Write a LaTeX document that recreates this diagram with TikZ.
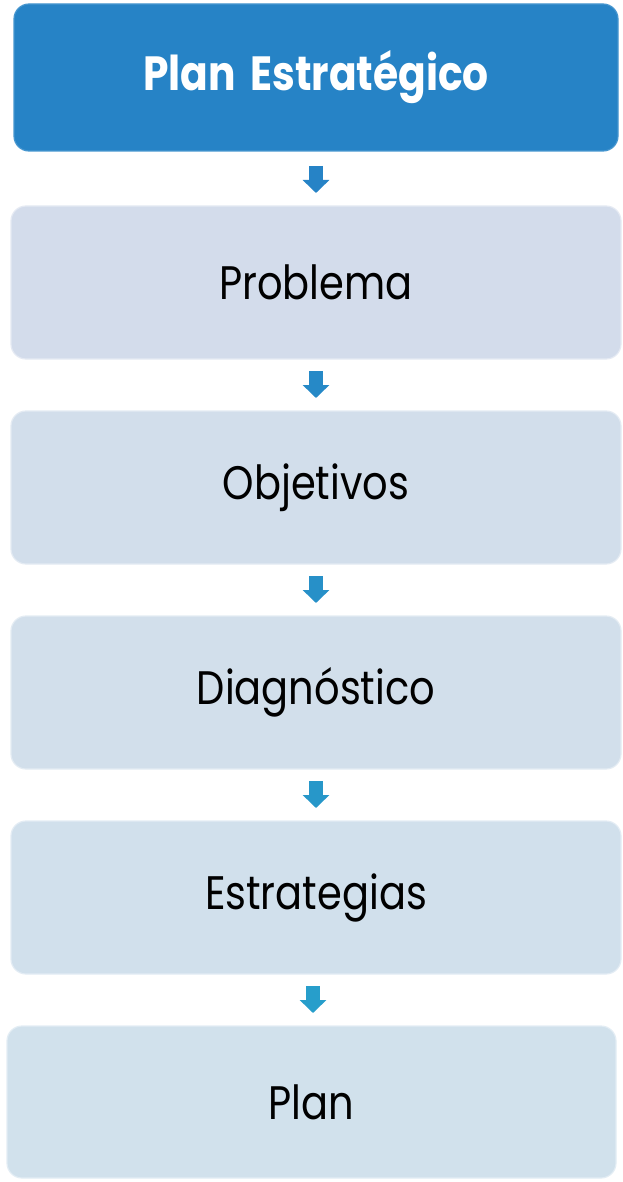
\documentclass[tikz,border=0pt]{standalone}
\usepackage{fontspec}
\setmainfont{Poppins}[FakeStretch=0.85]
\usetikzlibrary{arrows.meta,calc}
\definecolor{topblue}{HTML}{2683C6}
\definecolor{lav}{HTML}{D3DCEB}
\definecolor{lavb}{HTML}{D2DEEB}
\definecolor{lavc}{HTML}{D2DFEB}
\definecolor{lavd}{HTML}{D1E0EC}
\definecolor{lave}{HTML}{D1E1EC}
\definecolor{arrA}{HTML}{2683C6}
\definecolor{arrB}{HTML}{2689C7}
\definecolor{arrC}{HTML}{2790C8}
\definecolor{arrD}{HTML}{2797C9}
\definecolor{arrE}{HTML}{279ECB}
\tikzset{
  box/.style={rounded corners=15pt, minimum width=610pt, minimum height=153pt,
    inner sep=0pt, outer sep=0pt, line width=1.2pt, font=\fontsize{47}{52}\selectfont, text=black},
  titlebox/.style={box, fill=topblue, draw=topblue!85!white, minimum width=604pt,
    minimum height=147pt, text=white, font=\fontsize{48}{54}\selectfont\bfseries},
  lbox/.style={box, fill=#1, draw=#1!60!white},
  blockarrow/.style={draw=#1, line width=14pt,
    -{Triangle[width=26pt,length=13pt,fill=#1,color=#1]}},
}
\begin{document}
\begin{tikzpicture}[x=1pt,y=-1pt]
\useasboundingbox (0,0) rectangle (623,1182);
\node[titlebox] (b1) at (316,77.5) {Plan\hspace{0.12em} Estratégico};
\node[lbox=lav] (b2) at (316,282.5) {Problema};
\node[lbox=lavb] (b3) at (316,487.5) {Objetivos};
\node[lbox=lavc] (b4) at (316,692.5) {Diagnóstico};
\node[lbox=lavd] (b5) at (316,897.5) {Estrategias};
\node[lbox=lave, minimum width=609pt, minimum height=152pt] (b6) at (311.5,1102) {Plan};
\draw[blockarrow=arrA] ($(b1.south)+(0,15)$) -- ($(b2.north)+(0,-13)$);
\draw[blockarrow=arrB] ($(b2.south)+(0,12)$) -- ($(b3.north)+(0,-13)$);
\draw[blockarrow=arrC] ($(b3.south)+(0,12)$) -- ($(b4.north)+(0,-13)$);
\draw[blockarrow=arrD] ($(b4.south)+(0,12)$) -- ($(b5.north)+(0,-13)$);
\draw[blockarrow=arrE] ($(b5.south)+(-3,12)$) -- ($(b6.north)+(1.5,-13)$);
\end{tikzpicture}
\end{document}
